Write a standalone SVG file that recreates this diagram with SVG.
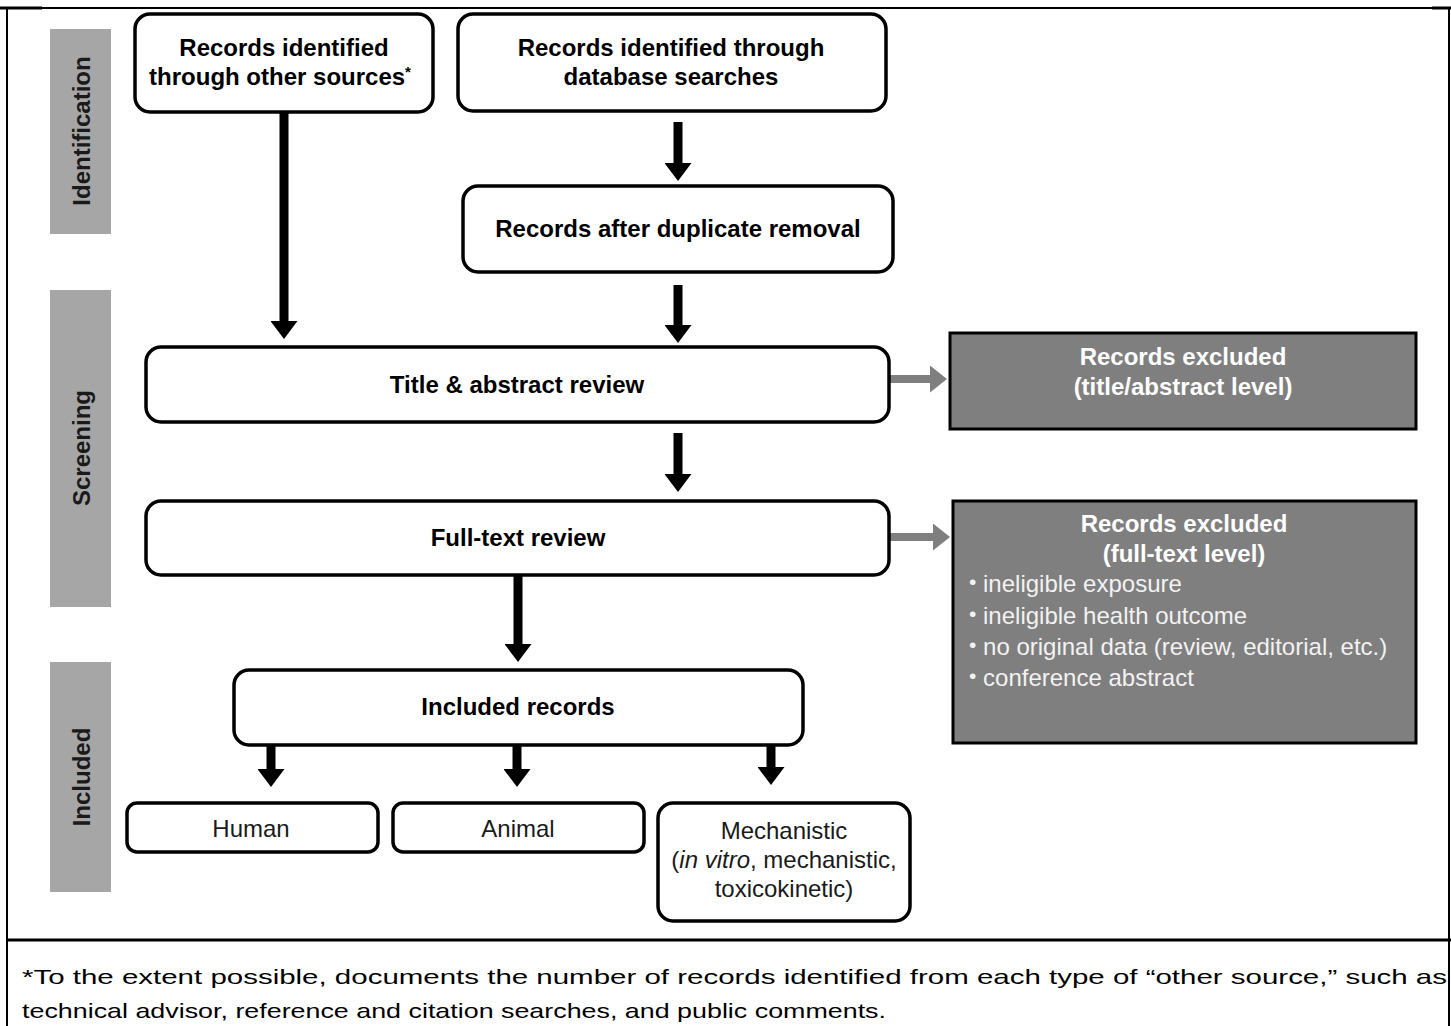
<svg xmlns="http://www.w3.org/2000/svg" width="1451" height="1026" viewBox="0 0 1451 1026">
<defs>
<style>
.node{fill:#fff;stroke:#000;stroke-width:3.5}
.excl{fill:#7f7f7f;stroke:#000;stroke-width:3}
.phase{fill:#a6a6a6}
.b{font-family:"Liberation Sans",Arial,sans-serif;font-weight:bold;font-size:24px;fill:#000;text-anchor:middle}
.r{font-family:"Liberation Sans",Arial,sans-serif;font-size:24px;fill:#1a1a1a;text-anchor:middle}
.ph{font-family:"Liberation Sans",Arial,sans-serif;font-weight:bold;font-size:24px;fill:#1a1a1a;text-anchor:middle}
.wb{font-family:"Liberation Sans",Arial,sans-serif;font-weight:bold;font-size:24px;fill:#fff;text-anchor:middle}
.wr{font-family:"Liberation Sans",Arial,sans-serif;font-size:24px;fill:#f2f2f2}
.fn{font-family:"Liberation Sans",Arial,sans-serif;font-size:21px;fill:#000}
.blk{stroke:#000;stroke-width:9;fill:none}
.gry{stroke:#7f7f7f;stroke-width:8;fill:none}
.frame{stroke:#000;stroke-width:2;fill:none}
</style>
<marker id="ahb" viewBox="0 0 18 27" markerWidth="18" markerHeight="27" refX="0" refY="13.5" orient="auto" markerUnits="userSpaceOnUse">
<path d="M0,0 L18,13.5 L0,27 Z" fill="#000"/>
</marker>
<marker id="ahg" viewBox="0 0 17 27" markerWidth="17" markerHeight="27" refX="0" refY="13.5" orient="auto" markerUnits="userSpaceOnUse">
<path d="M0,0 L17,13.5 L0,27 Z" fill="#7f7f7f"/>
</marker>
</defs>
<rect x="0" y="0" width="1451" height="1026" fill="#fff"/>

<g id="frame">
<line class="frame" x1="7" y1="8" x2="1451" y2="8"/>
<line x1="0" y1="8" x2="42" y2="8" stroke="#000" stroke-width="3"/>
<line x1="1432" y1="8" x2="1451" y2="8" stroke="#000" stroke-width="3"/>
<line class="frame" x1="7" y1="8" x2="7" y2="1026"/>
<line class="frame" x1="1449" y1="8" x2="1449" y2="1026"/>
<line x1="7" y1="940" x2="1451" y2="940" stroke="#000" stroke-width="3"/>
</g>

<g id="phase-identification">
<rect class="phase" x="50" y="29" width="61" height="205"/>
<text class="ph" transform="translate(90,131) rotate(-90)">Identification</text>
</g>
<g id="phase-screening">
<rect class="phase" x="50" y="290" width="61" height="317"/>
<text class="ph" transform="translate(90,448) rotate(-90)">Screening</text>
</g>
<g id="phase-included">
<rect class="phase" x="50" y="662" width="61" height="230"/>
<text class="ph" transform="translate(90,777) rotate(-90)">Included</text>
</g>

<g id="connectors">
<line class="blk" x1="284" y1="112" x2="284" y2="321" marker-end="url(#ahb)"/>
<line class="blk" x1="678" y1="122" x2="678" y2="163" marker-end="url(#ahb)"/>
<line class="blk" x1="678" y1="285" x2="678" y2="325" marker-end="url(#ahb)"/>
<line class="blk" x1="678" y1="433" x2="678" y2="474" marker-end="url(#ahb)"/>
<line class="blk" x1="518" y1="576" x2="518" y2="644" marker-end="url(#ahb)"/>
<line class="blk" x1="271" y1="745" x2="271" y2="769" marker-end="url(#ahb)"/>
<line class="blk" x1="517" y1="745" x2="517" y2="769" marker-end="url(#ahb)"/>
<line class="blk" x1="771" y1="745" x2="771" y2="767" marker-end="url(#ahb)"/>
<line class="gry" x1="890" y1="379" x2="930" y2="379" marker-end="url(#ahg)"/>
<line class="gry" x1="890" y1="537" x2="933" y2="537" marker-end="url(#ahg)"/>
</g>

<g id="node-other-sources">
<rect class="node" x="135" y="14" width="298" height="98" rx="15"/>
<text class="b" x="284" y="56">Records identified</text>
<text class="b" x="280" y="85">through other sources<tspan font-size="15" dy="-8">*</tspan></text>
</g>
<g id="node-database">
<rect class="node" x="458" y="14" width="428" height="97" rx="15"/>
<text class="b" x="671" y="56">Records identified through</text>
<text class="b" x="671" y="85">database searches</text>
</g>
<g id="node-duplicate">
<rect class="node" x="463" y="186" width="430" height="86" rx="15"/>
<text class="b" x="678" y="237">Records after duplicate removal</text>
</g>
<g id="node-title-abstract">
<rect class="node" x="146" y="347" width="743" height="75" rx="15"/>
<text class="b" x="517" y="393">Title &amp; abstract review</text>
</g>
<g id="node-full-text">
<rect class="node" x="146" y="501" width="743" height="74" rx="15"/>
<text class="b" x="518" y="546">Full-text review</text>
</g>
<g id="node-included">
<rect class="node" x="234" y="670" width="569" height="75" rx="15"/>
<text class="b" x="518" y="715">Included records</text>
</g>
<g id="node-human">
<rect class="node" x="127" y="803" width="251" height="49" rx="10"/>
<text class="r" x="251" y="837">Human</text>
</g>
<g id="node-animal">
<rect class="node" x="393" y="803" width="251" height="49" rx="10"/>
<text class="r" x="518" y="837">Animal</text>
</g>
<g id="node-mechanistic">
<rect class="node" x="658" y="803" width="252" height="118" rx="15"/>
<text class="r" x="784" y="839">Mechanistic</text>
<text class="r" x="784" y="868">(<tspan font-style="italic">in vitro</tspan>, mechanistic,</text>
<text class="r" x="784" y="897">toxicokinetic)</text>
</g>
<g id="node-excluded-title">
<rect class="excl" x="950" y="333" width="466" height="96"/>
<text class="wb" x="1183" y="365">Records excluded</text>
<text class="wb" x="1183" y="395">(title/abstract  level)</text>
</g>
<g id="node-excluded-full">
<rect class="excl" x="953" y="501" width="463" height="242"/>
<text class="wb" x="1184" y="532">Records  excluded</text>
<text class="wb" x="1184" y="562">(full-text  level)</text>
<text class="wr" x="969" y="592"><tspan font-size="21" dy="-3">•</tspan><tspan dy="3"> ineligible exposure</tspan></text>
<text class="wr" x="969" y="624"><tspan font-size="21" dy="-3">•</tspan><tspan dy="3"> ineligible health  outcome</tspan></text>
<text class="wr" x="969" y="655"><tspan font-size="21" dy="-3">•</tspan><tspan dy="3"> no original data (review,  editorial, etc.)</tspan></text>
<text class="wr" x="969" y="686"><tspan font-size="21" dy="-3">•</tspan><tspan dy="3"> conference  abstract</tspan></text>
</g>

<g id="footnote">
<text class="fn" x="22" y="984" textLength="1425" lengthAdjust="spacingAndGlyphs">*To the extent possible, documents the number of records identified from each type of “other source,” such as</text>
<text class="fn" x="22" y="1018" textLength="864" lengthAdjust="spacingAndGlyphs">technical advisor, reference and citation searches, and public comments.</text>
</g>
</svg>
